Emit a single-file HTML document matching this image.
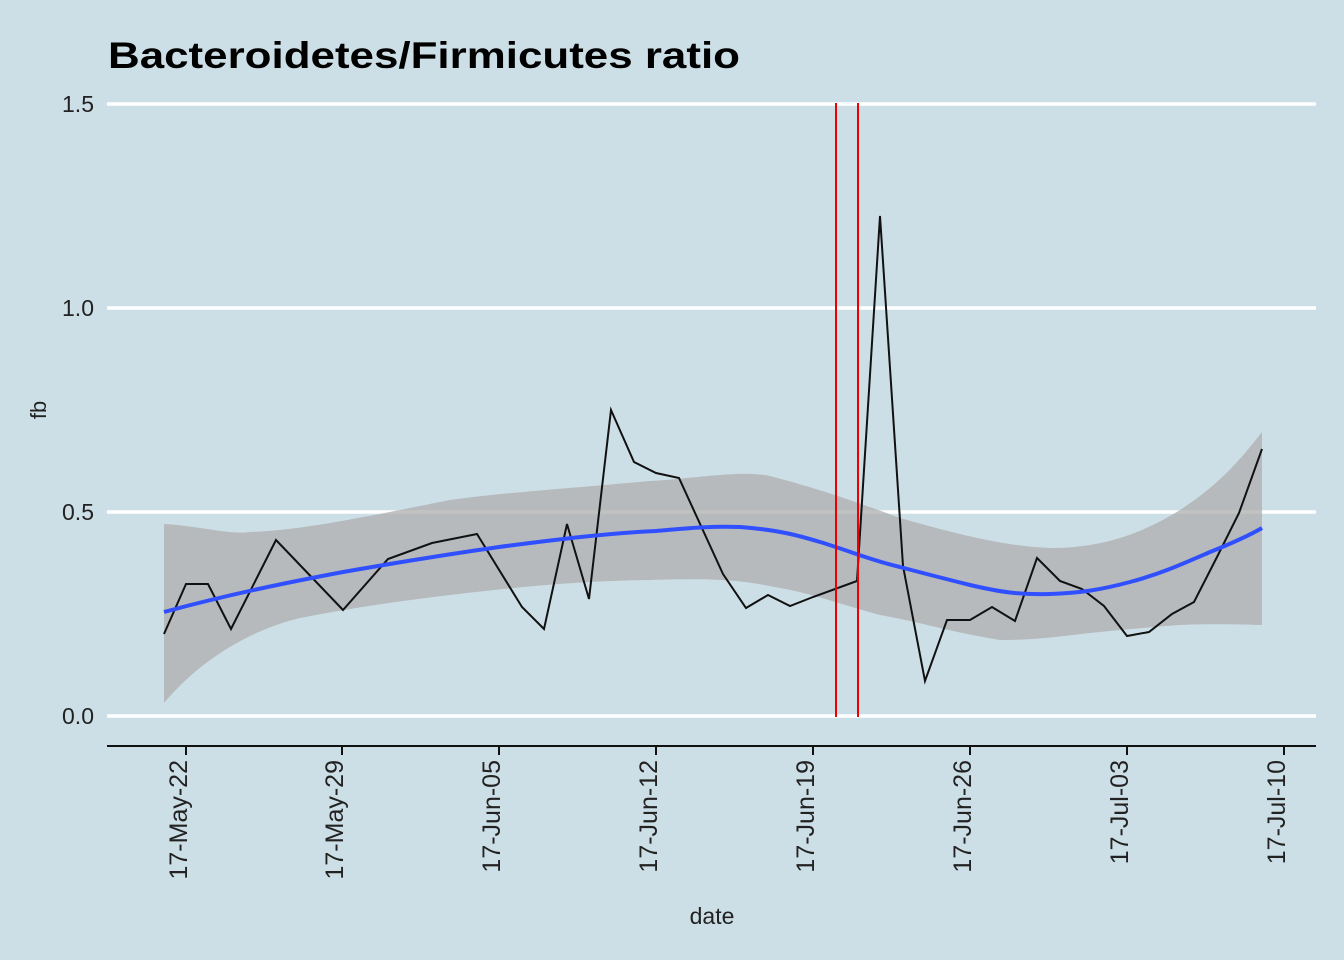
<!DOCTYPE html>
<html><head><style>html,body{margin:0;padding:0;background:#cddfe6;}svg{display:block;font-family:"Liberation Sans",Arial,sans-serif;}</style></head>
<body>
<svg width="1344" height="960" viewBox="0 0 1344 960">
<rect width="1344" height="960" fill="#cddfe6"/>
<text x="108" y="68" font-size="37" font-weight="bold" fill="#000" textLength="632" lengthAdjust="spacingAndGlyphs">Bacteroidetes/Firmicutes ratio</text>
<g stroke="#fff" stroke-width="3.5">
<line x1="107" y1="104" x2="1316" y2="104"/><line x1="107" y1="308" x2="1316" y2="308"/>
<line x1="107" y1="512" x2="1316" y2="512"/><line x1="107" y1="716" x2="1316" y2="716"/>
</g>
<g font-size="23" fill="#222" text-anchor="end">
<text x="94" y="112">1.5</text><text x="94" y="316">1.0</text><text x="94" y="520">0.5</text><text x="94" y="724">0.0</text>
</g>
<text transform="translate(46,410) rotate(-90)" font-size="22" text-anchor="middle" fill="#222">fb</text>
<path d="M164,524 C200,526 230,535 250,532 C300,530 350,520 450,500 C500,493 550,490 650,481 C700,478 740,470 770,476 C800,484 830,492 900,518 C950,532 1000,546 1050,548 C1100,548 1140,535 1180,510 C1220,484 1240,460 1262,432 L1262,625 C1230,624 1200,624 1180,625 C1140,628 1120,630 1100,632 C1060,636 1040,640 1000,640 C950,632 920,622 880,615 C840,604 810,593 780,588 C740,580 720,578 650,580 C600,581 550,583 450,595 C400,601 350,608 300,618 C250,630 200,660 164,703 Z" fill="#adadad" fill-opacity="0.75"/>
<polyline fill="none" stroke="#111" stroke-width="2" points="164,634 186,584 208,584 231,629 276,540 343,610 388,559 432,543 477,534 522,607 544,629 567,524 589,599 611,410 634,462 656,473 679,478 723,574 746,608 768,595 790,606 813,597 857,581 880,216 903,566 925,681 947,620 970,620 992,607 1015,621 1037,558 1060,581 1082,589 1104,606 1127,636 1149,632 1172,614 1194,602 1217,557 1239,513 1262,449"/>
<path d="M164,612 C230,594 290,582 343,572 C400,562 450,554 499,547 C560,539 610,533 656,531 C690,528 710,526 740,527 C780,530 800,536 820,542 C850,551 870,560 900,567 C930,575 950,580 970,585 C1000,592 1020,595 1050,594 C1080,593 1100,590 1130,582 C1160,574 1180,565 1210,552 C1230,544 1250,535 1262,528" fill="none" stroke="#3050ff" stroke-width="4"/>
<g stroke="#ee0000" stroke-width="2"><line x1="836" y1="103" x2="836" y2="717"/><line x1="858" y1="103" x2="858" y2="717"/></g>
<line x1="107" y1="746" x2="1316" y2="746" stroke="#111" stroke-width="2"/>
<g stroke="#111" stroke-width="2">
<line x1="186" y1="746" x2="186" y2="755"/><line x1="342" y1="746" x2="342" y2="755"/><line x1="499" y1="746" x2="499" y2="755"/><line x1="656" y1="746" x2="656" y2="755"/><line x1="813" y1="746" x2="813" y2="755"/><line x1="970" y1="746" x2="970" y2="755"/><line x1="1127" y1="746" x2="1127" y2="755"/><line x1="1284" y1="746" x2="1284" y2="755"/>
</g>
<g font-size="25" fill="#222" text-anchor="end">
<text transform="translate(187,760) rotate(-90)">17-May-22</text>
<text transform="translate(343,760) rotate(-90)">17-May-29</text>
<text transform="translate(500,760) rotate(-90)">17-Jun-05</text>
<text transform="translate(657,760) rotate(-90)">17-Jun-12</text>
<text transform="translate(814,760) rotate(-90)">17-Jun-19</text>
<text transform="translate(971,760) rotate(-90)">17-Jun-26</text>
<text transform="translate(1128,760) rotate(-90)">17-Jul-03</text>
<text transform="translate(1285,760) rotate(-90)">17-Jul-10</text>
</g>
<text x="712" y="924" font-size="23" text-anchor="middle" fill="#222">date</text>
</svg>
</body></html>
